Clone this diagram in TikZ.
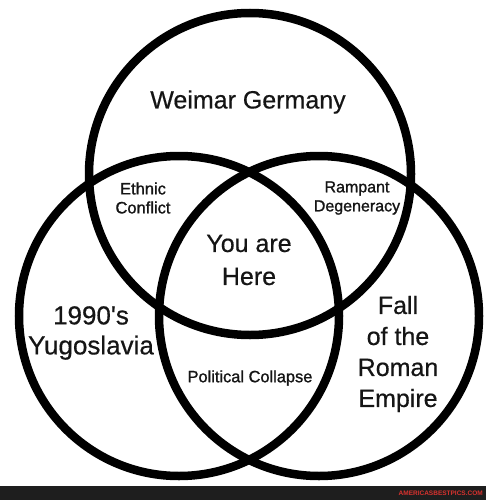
\documentclass[tikz,border=0pt]{standalone}
\usepackage{fontspec}
\setmainfont{Liberation Sans}
\newfontfamily\medfont[FakeBold=1.2]{Liberation Sans}
\newfontfamily\bigfont[FakeBold=0.5]{Liberation Sans}
\definecolor{ink}{HTML}{151515}
\definecolor{barcol}{HTML}{1E1E1E}
\definecolor{wmred}{HTML}{D8322E}
\begin{document}
\begin{tikzpicture}[x=1pt,y=-1pt,
  ring/.style={circle,draw=black,line width=8.5pt,inner sep=0pt,minimum size=#1},
  lbl/.style={align=center,text=ink,inner sep=0pt}]
\useasboundingbox (0,0) rectangle (486,500);
\fill[white] (0,0) rectangle (486,500);
\fill[barcol] (0,486) rectangle (486,500);
\node[ring=322pt] (top) at (250,174) {};
\node[ring=320pt] (left) at (179,316) {};
\node[ring=320pt] (right) at (319,316) {};
\node[lbl,font=\bigfont\fontsize{25}{30}\selectfont] (wg) at (248,102) {Weimar Germany};
\node[lbl,font=\medfont\fontsize{16.5}{19}\selectfont] (ec) at (143,198) {Ethnic\\Conflict};
\node[lbl,font=\medfont\fontsize{16}{19}\selectfont] (rd) at (357,198) {Rampant\\Degeneracy};
\node[lbl,font=\bigfont\fontsize{25}{33}\selectfont] (yh) at (249,260) {You are\\Here};
\node[lbl,font=\bigfont\fontsize{26}{30}\selectfont] (yu) at (91,333) {1990's\\Yugoslavia};
\node[lbl,font=\medfont\fontsize{16.4}{19}\selectfont] (pc) at (250,378) {Political Collapse};
\node[lbl,font=\bigfont\fontsize{25}{31}\selectfont] (fr) at (398,354) {Fall\\of the\\Roman\\Empire};
\node[anchor=east,inner sep=0pt,text=wmred,font=\bfseries\fontsize{6.5}{7}\selectfont] (wm) at (483,493) {AMERICASBESTPICS.COM};
\end{tikzpicture}
\end{document}
